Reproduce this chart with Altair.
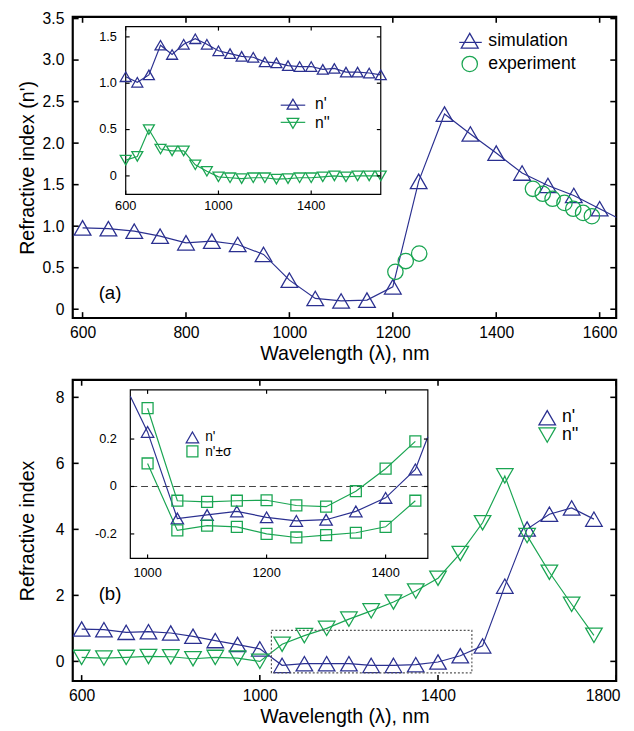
import altair as alt
import pandas as pd

BLUE = "#2b3090"
GREEN = "#1aa552"
FONT = "Liberation Sans"
W, H = 554, 307

# ---------------- Panel (a): main ----------------
a_sim_x = [600, 650, 700, 750, 800, 850, 900, 950, 1000, 1050, 1100, 1150, 1200,
           1250, 1300, 1350, 1400, 1450, 1500, 1550, 1600, 1650]
a_sim_y = [0.98, 0.97, 0.94, 0.88, 0.80, 0.82, 0.78, 0.66, 0.35, 0.13, 0.10, 0.11, 0.27,
           1.54, 2.35, 2.11, 1.88, 1.64, 1.49, 1.37, 1.21, 1.05]
a_exp_x = [1205, 1225, 1251, 1471, 1490, 1509, 1532, 1549, 1568, 1585]
a_exp_y = [0.45, 0.58, 0.67, 1.45, 1.39, 1.33, 1.28, 1.21, 1.16, 1.12]
a_xticks = [600, 800, 1000, 1200, 1400, 1600]
a_yticks = [0, 0.5, 1.0, 1.5, 2.0, 2.5, 3.0, 3.5]
a_legend = ["simulation", "experiment"]

# ---------------- Panel (a): inset ----------------
ia_x = [600, 650, 700, 750, 800, 850, 900, 950, 1000, 1050, 1100, 1150, 1200, 1250,
        1300, 1350, 1400, 1450, 1500, 1550, 1600, 1650, 1700]
ia_np = [1.07, 1.01, 1.09, 1.41, 1.31, 1.42, 1.48, 1.42, 1.35, 1.32, 1.29, 1.28, 1.23, 1.22,
         1.19, 1.18, 1.18, 1.15, 1.16, 1.12, 1.12, 1.11, 1.09]
ia_npp = [0.17, 0.21, 0.50, 0.29, 0.27, 0.27, 0.12, 0.05, -0.01, -0.02, -0.03, -0.02, -0.02,
          -0.035, -0.03, -0.02, -0.02, -0.01, 0.0, -0.01, 0.0, 0.0, 0.0]
ia_xticks = [600, 1000, 1400]
ia_xlabels = ["600", "1000", "1400"]
ia_yticks = [0, 0.5, 1.0, 1.5]
ia_ylabels = ["0", "0.5", "1.0", "1.5"]
ia_legend = ["n'", "n''"]

# ---------------- Panel (b): main ----------------
b_x = [600, 650, 700, 750, 800, 850, 900, 950, 1000, 1050, 1100, 1150, 1200, 1250,
       1300, 1350, 1400, 1450, 1500, 1550, 1600, 1650, 1700, 1750]
b_np = [0.98, 0.96, 0.88, 0.90, 0.86, 0.76, 0.63, 0.51, 0.38, -0.12, -0.07, -0.07, -0.07,
        -0.12, -0.12, -0.10, -0.02, 0.17, 0.47, 2.28, 4.01, 4.46, 4.65, 4.31]
b_npp = [0.12, 0.10, 0.12, 0.15, 0.14, 0.08, 0.12, 0.10, 0.0, 0.52, 0.78, 1.0, 1.28, 1.53,
         1.80, 2.13, 2.52, 3.27, 4.20, 5.62, 3.81, 2.70, 1.73, 0.79]
b_xticks = [600, 1000, 1400, 1800]
b_yticks = [0, 2, 4, 6, 8]
b_box_x = [1026, 1476]
b_box_y = [-0.35, 0.94]
b_legend = ["n'", "n''"]

# ---------------- Panel (b): inset ----------------
ib_x = [1000, 1050, 1100, 1150, 1200, 1250, 1300, 1350, 1400, 1450]
ib_np = [0.23, -0.135, -0.12, -0.105, -0.13, -0.145, -0.14, -0.105, -0.048, 0.072]
ib_up = [0.33, -0.06, -0.065, -0.06, -0.058, -0.08, -0.085, -0.02, 0.075, 0.19]
ib_lo = [0.097, -0.185, -0.165, -0.17, -0.20, -0.215, -0.205, -0.195, -0.17, -0.06]
# n' line as seen running into the inset edges
ib_line_x = [971, 1000, 1050, 1100, 1150, 1200, 1250, 1300, 1350, 1400, 1450, 1471]
ib_line_np = [0.38, 0.23, -0.135, -0.12, -0.105, -0.13, -0.145, -0.14, -0.105, -0.048, 0.072, 0.21]
ib_xticks = [1000, 1200, 1400]
ib_xlabels = ["1000", "1200", "1400"]
ib_yticks = [-0.2, 0, 0.2]
ib_ylabels = ["-0.2", "0", "0.2"]
ib_legend = ["n'", "n'\u00b1\u03c3"]


def df(x, y):
    return pd.DataFrame({"x": x, "y": y})


def line(d, xs, ys, color, xaxis, yaxis, clip=False):
    return alt.Chart(d).mark_line(color=color, strokeWidth=1.2, clip=clip).encode(
        x=alt.X("x:Q", scale=xs, axis=xaxis), y=alt.Y("y:Q", scale=ys, axis=yaxis))


def pts(d, xs, ys, color, shape, size, xaxis, yaxis, clip=False):
    return alt.Chart(d).mark_point(shape=shape, size=size, color=color, filled=False,
                                   strokeWidth=1.3, opacity=1, clip=clip).encode(
        x=alt.X("x:Q", scale=xs, axis=xaxis), y=alt.Y("y:Q", scale=ys, axis=yaxis))


def ticks(xvals, yvals, xs, ys, x0, x1, y0, y1, L, sw, xaxis, yaxis):
    out = []
    dx = pd.DataFrame({"v": xvals})
    dy = pd.DataFrame({"v": yvals})
    for ya_, yb_ in [(y1, y1 - L), (y0, y0 + L)]:
        out.append(alt.Chart(dx).mark_rule(color="black", strokeWidth=sw).encode(
            x=alt.X("v:Q", scale=xs, axis=xaxis), y=alt.value(ya_), y2=alt.value(yb_)))
    for xa_, xb_ in [(x0, x0 + L), (x1, x1 - L)]:
        out.append(alt.Chart(dy).mark_rule(color="black", strokeWidth=sw).encode(
            y=alt.Y("v:Q", scale=ys, axis=yaxis), x=alt.value(xa_), x2=alt.value(xb_)))
    return out


def labels_x(vals, labs, xs, ypix, fs):
    d = pd.DataFrame({"v": vals, "t": labs})
    return alt.Chart(d).mark_text(fontSize=fs, font=FONT, color="black", baseline="middle").encode(
        x=alt.X("v:Q", scale=xs, axis=None), y=alt.value(ypix), text="t:N")


def labels_y(vals, labs, ys, xpix, fs):
    d = pd.DataFrame({"v": vals, "t": labs})
    return alt.Chart(d).mark_text(fontSize=fs, font=FONT, color="black", baseline="middle",
                                  align="right").encode(
        y=alt.Y("v:Q", scale=ys, axis=None), x=alt.value(xpix), text="t:N")


def sym(px, py, shape, size, color):
    return alt.Chart(pd.DataFrame({"k": [0]})).mark_point(
        shape=shape, size=size, color=color, filled=False, strokeWidth=1.3, opacity=1).encode(
        x=alt.value(px), y=alt.value(py))


def seg(x0, x1, py, color):
    return alt.Chart(pd.DataFrame({"k": [0]})).mark_rule(color=color, strokeWidth=1.2).encode(
        x=alt.value(x0), x2=alt.value(x1), y=alt.value(py))


def txt(s, px, py, fs, align="left"):
    return alt.Chart(pd.DataFrame({"t": [s]})).mark_text(
        fontSize=fs, font=FONT, color="black", align=align, baseline="middle").encode(
        x=alt.value(px), y=alt.value(py), text="t:N")


def frame(x0, x1, y0, y1):
    return alt.Chart(pd.DataFrame({"k": [0]})).mark_rect(
        fill="white", stroke="black", strokeWidth=1.2).encode(
        x=alt.value(x0), x2=alt.value(x1), y=alt.value(y0), y2=alt.value(y1))


# ======== Panel (a) ========
xa = alt.Scale(domain=[581, 1632], nice=False, zero=False)
ya = alt.Scale(domain=[-0.106, 3.52], nice=False, zero=False)
ax_xa = alt.Axis(values=a_xticks, format="d", ticks=False, domain=False, grid=False,
                 labelPadding=7, title="Wavelength (\u03bb), nm", titlePadding=3)
ax_ya = alt.Axis(values=a_yticks, labelExpr="datum.value == 0 ? '0' : format(datum.value, '.1f')",
                 ticks=False, domain=False, grid=False, labelPadding=9,
                 title="Refractive index (n')", titleX=-36)

main_a = alt.layer(
    line(df(a_sim_x, a_sim_y), xa, ya, BLUE, ax_xa, ax_ya, clip=True),
    pts(df(a_sim_x, a_sim_y), xa, ya, BLUE, "triangle-up", 290, ax_xa, ax_ya, clip=True),
    pts(df(a_exp_x, a_exp_y), xa, ya, GREEN, "circle", 246, ax_xa, ax_ya, clip=True),
    *ticks(a_xticks, a_yticks, xa, ya, 0, W, 0, H, 6, 1.6, ax_xa, ax_ya),
    seg(394, 417, 26, BLUE),
    sym(404.7, 24.3, "triangle-up", 300, BLUE),
    txt(a_legend[0], 423.7, 24.3, 18),
    sym(404.7, 48, "circle", 246, GREEN),
    txt(a_legend[1], 423.7, 48, 18),
    txt("(a)", 38, 282, 19, align="center"),
)

iax = alt.Scale(domain=[600, 1700], range=[54, 314], nice=False, zero=False)
iay = alt.Scale(domain=[-0.2, 1.61], range=[181, 10], nice=False, zero=False)
inset_a = alt.layer(
    frame(54, 314, 10, 181),
    line(df(ia_x, ia_np), iax, iay, BLUE, None, None),
    line(df(ia_x, ia_npp), iax, iay, GREEN, None, None),
    pts(df(ia_x, ia_np), iax, iay, BLUE, "triangle-up", 125, None, None),
    pts(df(ia_x, ia_npp), iax, iay, GREEN, "triangle-down", 125, None, None),
    *ticks(ia_xticks, ia_yticks, iax, iay, 54, 314, 10, 181, 4, 1.2, None, None),
    labels_x(ia_xticks, ia_xlabels, iax, 193, 13),
    labels_y(ia_yticks, ia_ylabels, iay, 45, 13),
    seg(212, 237, 90, BLUE),
    sym(224.5, 89, "triangle-up", 140, BLUE),
    txt(ia_legend[0], 247, 89, 16),
    seg(212, 237, 107.5, GREEN),
    sym(224.5, 108.5, "triangle-down", 140, GREEN),
    txt(ia_legend[1], 247, 108.5, 16),
)

panel_a = alt.layer(main_a, inset_a).resolve_scale(x="independent", y="independent").properties(
    width=W, height=H)

# ======== Panel (b) ========
xb = alt.Scale(domain=[580, 1800], nice=False, zero=False)
yb = alt.Scale(domain=[-0.594, 8.53], nice=False, zero=False)
ax_xb = alt.Axis(values=b_xticks, format="d", ticks=False, domain=False, grid=False,
                 labelPadding=7, title="Wavelength (\u03bb), nm", titlePadding=3,
                 labelFlush=True, labelFlushOffset=4)
ax_yb = alt.Axis(values=b_yticks, format="d", ticks=False, domain=False, grid=False,
                 labelPadding=9, title="Refractive index", titleX=-36)

box_df = pd.DataFrame({"x1": [b_box_x[0]], "x2": [b_box_x[1]], "y1": [b_box_y[0]], "y2": [b_box_y[1]]})
box = alt.Chart(box_df).mark_rect(fillOpacity=0, stroke="#555555", strokeWidth=1.2,
                                   strokeDash=[2, 2]).encode(
    x=alt.X("x1:Q", scale=xb, axis=ax_xb), x2="x2:Q",
    y=alt.Y("y1:Q", scale=yb, axis=ax_yb), y2="y2:Q")

main_b = alt.layer(
    line(df(b_x, b_np), xb, yb, BLUE, ax_xb, ax_yb, clip=True),
    line(df(b_x, b_npp), xb, yb, GREEN, ax_xb, ax_yb, clip=True),
    pts(df(b_x, b_np), xb, yb, BLUE, "triangle-up", 285, ax_xb, ax_yb, clip=True),
    pts(df(b_x, b_npp), xb, yb, GREEN, "triangle-down", 285, ax_xb, ax_yb, clip=True),
    box,
    *ticks(b_xticks, b_yticks, xb, yb, 0, W, 0, H, 6, 1.6, ax_xb, ax_yb),
    sym(483.7, 38.7, "triangle-up", 285, BLUE),
    txt(b_legend[0], 498.7, 38.2, 18),
    sym(483.7, 56.3, "triangle-down", 285, GREEN),
    txt(b_legend[1], 498.7, 56.8, 18),
    txt("(b)", 38, 218, 19, align="center"),
)

ibx = alt.Scale(domain=[971, 1471], range=[58.7, 362], nice=False, zero=False)
iby = alt.Scale(domain=[-0.303, 0.407], range=[182, 10.3], nice=False, zero=False)
zero_df = pd.DataFrame({"x1": [971], "x2": [1471], "y": [0]})
zero_line = alt.Chart(zero_df).mark_rule(color="#444444", strokeWidth=1.1, strokeDash=[7, 4]).encode(
    x=alt.X("x1:Q", scale=ibx, axis=None), x2="x2:Q", y=alt.Y("y:Q", scale=iby, axis=None))

inset_b = alt.layer(
    frame(58.7, 362, 10.3, 182),
    zero_line,
    line(df(ib_line_x, ib_line_np), ibx, iby, BLUE, None, None),
    line(df(ib_x, ib_up), ibx, iby, GREEN, None, None),
    line(df(ib_x, ib_lo), ibx, iby, GREEN, None, None),
    pts(df(ib_x, ib_np), ibx, iby, BLUE, "triangle-up", 160, None, None),
    pts(df(ib_x, ib_up), ibx, iby, GREEN, "square", 125, None, None),
    pts(df(ib_x, ib_lo), ibx, iby, GREEN, "square", 125, None, None),
    *ticks(ib_xticks, ib_yticks, ibx, iby, 58.7, 362, 10.3, 182, 4, 1.2, None, None),
    labels_x(ib_xticks, ib_xlabels, ibx, 197, 13),
    labels_y(ib_yticks, ib_ylabels, iby, 45, 13),
    sym(122, 58.7, "triangle-up", 160, BLUE),
    txt(ib_legend[0], 135, 58, 14),
    sym(122, 73, "square", 125, GREEN),
    txt(ib_legend[1], 135, 73.5, 14),
)

panel_b = alt.layer(main_b, inset_b).resolve_scale(x="independent", y="independent").properties(
    width=W, height=H)

chart = alt.vconcat(panel_a, panel_b, spacing=13).properties(
    padding={"left": 8, "top": -6, "right": 4, "bottom": 0},
    background="white",
).configure_view(
    stroke="black", strokeWidth=2.2
).configure_axis(
    labelFont=FONT, titleFont=FONT, labelFontSize=16, titleFontSize=20,
    titleFontWeight="normal", labelColor="black", titleColor="black",
)

chart.save("out.html", embed_options={"renderer": "svg", "actions": False})
